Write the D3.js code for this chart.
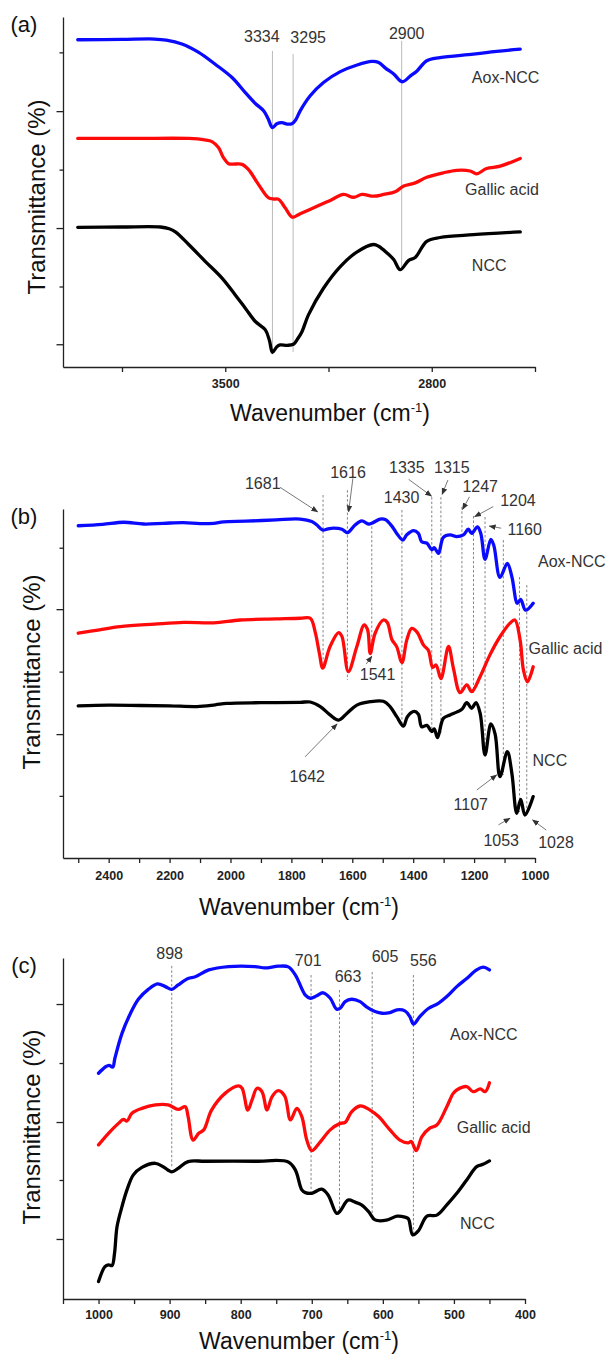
<!DOCTYPE html>
<html>
<head>
<meta charset="utf-8">
<script src="https://cdn.jsdelivr.net/npm/d3@7"></script>
<style>
  body { margin: 0; background: #fff; }
  svg { display: block; font-family: 'Liberation Sans', Arial, sans-serif; }
</style>
</head>
<body>
<script>
// ---- data: [wavenumber (cm-1), transmittance (arbitrary %, offset)] ----

// (a) 4000-2500
const aAox = [[4000,93.5],[3850,93.6],[3740,93.7],[3700,93.4],[3647,92.3],[3590,89.9],[3534,86.5],[3477,82.7],[3432,78.4],[3398,75.3],[3370,73.2],[3355,71],[3340,68.4],[3325,69.5],[3308,69.8],[3290,69.4],[3274,69.5],[3262,70.5],[3246,73.2],[3212,77.5],[3167,81.3],[3110,84.4],[3053,86.3],[3003,87.3],[2980,87.0],[2957,85.4],[2929,83.7],[2900,81.5],[2872,83.2],[2850,84.6],[2817,87.5],[2772,88.4],[2659,89.4],[2580,90.2],[2500,90.8]]
const aGallic = [[4000,65.3],[3800,65.3],[3624,65.3],[3570,64.9],[3545,64.4],[3523,62.7],[3506,59.8],[3489,58.1],[3465,58.0],[3443,57.9],[3421,56.4],[3387,52.1],[3353,48.3],[3335,48.0],[3319,47.9],[3297,45.5],[3272,42.8],[3246,43.8],[3189,45.9],[3144,47.6],[3099,49.3],[3065,48.5],[3036,49.3],[2997,48.8],[2963,49.3],[2924,50.1],[2895,51.7],[2856,52.6],[2817,54.2],[2760,55.5],[2715,56.2],[2670,56.0],[2648,55.2],[2614,56.7],[2568,57.4],[2500,59.6]]
const aNcc = [[4000,39.9],[3850,40.0],[3720,40.0],[3690,39.5],[3669,38.6],[3624,35.0],[3568,30.2],[3511,25.4],[3466,20.6],[3432,16.8],[3398,13.0],[3364,10.6],[3350,7.5],[3340,4.2],[3325,5.8],[3314,6.3],[3290,6.2],[3269,6.5],[3255,8],[3240,10.1],[3218,14.9],[3167,22.5],[3110,28.7],[3053,32.9],[2997,35.0],[2980,34.5],[2952,32.6],[2929,30.7],[2907,27.8],[2879,30.4],[2856,31.3],[2817,35.9],[2772,37.0],[2659,37.8],[2500,38.6]]

// (b) 2500-1000
const bAox = [[2500,95.2],[2420,95.6],[2351,96.2],[2285,95.7],[2220,95.9],[2154,96.1],[2100,95.8],[2055,95.9],[2023,96.3],[1950,96.5],[1850,96.9],[1771,97.1],[1733,96.4],[1716,95.4],[1698,94.0],[1680,94.3],[1662,94.5],[1634,94.2],[1616,93.2],[1591,95.4],[1569,96.6],[1547,95.7],[1536,95.9],[1509,97.1],[1492,97.0],[1470,95.1],[1454,93.0],[1434,91.1],[1421,92.6],[1399,93.8],[1383,93.0],[1372,90.6],[1355,90.2],[1339,88.3],[1331,88.9],[1317,87.3],[1301,91.9],[1279,92.6],[1257,92.1],[1235,92.6],[1219,94.2],[1208,93.0],[1189,94.9],[1178,93.0],[1164,85.6],[1145,91.3],[1135,89.5],[1115,80.4],[1091,84.4],[1076,80.6],[1058,73.0],[1047,74.1],[1031,71.0],[1006,73.0]]
const bGallic = [[2500,64.4],[2430,65.4],[2362,66.3],[2250,67.0],[2154,67.5],[2055,67.4],[1968,68.2],[1850,68.5],[1771,68.7],[1738,68.7],[1722,64.8],[1708,58.6],[1697,54.4],[1673,60.6],[1645,64.6],[1634,63.5],[1613,53.4],[1585,60.6],[1561,66.8],[1550,65.5],[1541,58.6],[1525,64.4],[1498,68.2],[1485,67.5],[1470,62.6],[1454,60.5],[1437,56.0],[1421,62.5],[1405,65.8],[1388,64.8],[1366,61.0],[1350,59.5],[1336,54.6],[1325,55.3],[1309,51.4],[1284,60.6],[1268,54.4],[1246,47.4],[1224,49.6],[1208,47.7],[1180,52.0],[1148,58.2],[1115,63.4],[1082,67.3],[1066,68.2],[1049,62.5],[1038,53.9],[1025,50.5],[1006,54.8]]
const bNcc = [[2500,43.6],[2400,43.8],[2296,43.7],[2200,43.6],[2110,43.4],[2050,43.9],[2012,44.3],[1900,44.5],[1771,44.6],[1738,44.7],[1705,43.4],[1673,41.0],[1645,39.5],[1618,41.4],[1585,43.8],[1541,44.8],[1498,44.9],[1476,43.4],[1454,40.5],[1432,37.8],[1419,40.5],[1397,42.0],[1383,41.2],[1372,37.6],[1355,38.0],[1339,36.2],[1331,37.0],[1320,34.5],[1301,40.0],[1279,41.0],[1257,41.8],[1240,42.6],[1224,44.5],[1208,42.9],[1194,44.5],[1180,41.4],[1164,29.5],[1145,38.4],[1131,35.5],[1115,23.3],[1091,30.5],[1076,24.3],[1060,12.8],[1047,16.8],[1033,12.3],[1006,17.6]]

// (c) 1000-450
const cAox = [[1000,66.2],[990,68.1],[985,68.5],[980,68.0],[977,70.6],[967,77.9],[955,83.8],[944,87.9],[930,90.8],[917,92.4],[906,91.6],[897,90.8],[888,92.1],[874,94.0],[864,94.5],[845,96.5],[817,97.5],[780,97.5],[766,97.1],[747,97.6],[733,97.4],[723,95.0],[709,89.1],[702,88.2],[693,88.9],[684,89.8],[674,88.2],[665,85.0],[660,85.3],[653,87.2],[644,87.9],[632,87.2],[623,85.7],[611,84.3],[601,83.8],[590,84.0],[580,84.8],[569,84.5],[562,82.8],[557,80.6],[548,82.8],[536,85.2],[522,86.7],[510,88.7],[496,91.6],[482,94.0],[468,96.5],[459,97.3],[450,96.5]]
const cGallic = [[1000,45.2],[986,48.6],[972,51.5],[965,52.7],[960,52.2],[953,54.5],[939,55.9],[920,56.9],[902,56.9],[888,55.6],[878,56.4],[874,53.5],[867,46.6],[859,48.6],[852,49.6],[841,55.4],[822,60.3],[803,62.5],[798,61.8],[790,55.4],[784,58.4],[777,61.8],[770,60.8],[763,55.4],[756,59.3],[747,61.1],[738,59.5],[730,52.5],[721,55.9],[714,53.5],[707,46.6],[700,43.5],[688,46.1],[674,49.6],[660,51.5],[653,51.8],[644,54.9],[632,56.6],[618,55.4],[606,53.5],[590,49.6],[576,46.6],[564,45.8],[560,46.2],[553,43.5],[545,47.6],[534,50.1],[524,51.0],[510,56.4],[501,60.3],[496,61.3],[482,62.3],[473,60.8],[463,61.6],[456,60.8],[450,63.4]]
const cNcc = [[1000,5.1],[991,9.5],[986,10.0],[981,9.8],[977.5,13.4],[974,21.2],[967,27.1],[960,32.0],[951,36.4],[939,38.6],[920,39.8],[909,38.8],[897,37.3],[888,38.3],[874,40.3],[850,40.4],[780,40.4],[733,40.2],[723,37.8],[714,32.0],[709,31.2],[700,31.0],[686,32.2],[677,30.5],[665,25.1],[660,25.8],[649,29.0],[639,28.4],[630,27.6],[620,25.6],[611,23.2],[595,23.1],[580,24.3],[569,24.0],[564,23.5],[558,18.8],[550,20.0],[538,24.3],[524,24.6],[510,27.6],[496,31.0],[482,34.9],[468,38.8],[459,39.5],[450,40.5]]

const seriesNames = ['Aox-NCC', 'Gallic acid', 'NCC']

// axis ticks
const aXTicks = [3850, 3500, 3150, 2800, 2450]
const aXLabels = [3500, 2800]
const bXTicks = d3.range(2500, 999, -100)
const bXLabels = [2400, 2200, 2000, 1800, 1600, 1400, 1200, 1000]
const cXTicks = d3.range(1050, 399, -50)
const cXLabels = [1000, 900, 800, 700, 600, 500, 400]

const aYMajor = [6.5, 39.7, 73.1]
const aYMinor = [23.0, 56.4, 89.9]
const bYMajor = [35.5, 71.3]
const bYMinor = [17.8, 53.4, 88.9]
const cYMajor = [17.6, 51.9, 86.5]
const cYMinor = [34.9, 69.2]

// marked bands: [wavenumber of line, top, bottom]
const aPeaks = [[3340, 90.3, 3.6], [3270, 89.4, 4.3], [2902, 93.2, 28.4]]
const aPeakText = ['3334', '3295', '2900']
const bPeaks = [[1696, 104.0, 54.4], [1616, 105.4, 51.0], [1536, 96.3, 59.6], [1437, 99.7, 37.5], [1339, 103.4, 37.2], [1309, 103.4, 35.8], [1240, 100.6, 47.3], [1202, 98.0, 47.3], [1164, 97.7, 29.5], [1104, 91.1, 23.8], [1051, 80.5, 13.2], [1027, 78.2, 12.3]]
const cPeaks = [[897, 97.7, 38.4], [701, 95.0, 31.1], [661, 90.6, 25.5], [615, 95.9, 23.2], [557, 95.0, 18.8]]
const cPeakText = ['898', '701', '663', '605', '556']
const bPeakText = ['1681', '1616', '1541', '1430', '1335', '1315', '1247', '1204', '1160', '1642', '1107', '1053', '1028']

// ---- layout ----
const W = 616
const H = 1355
const font = "'Liberation Sans', Arial, sans-serif"
const colors = ['#0a0aff', '#ff0a0a', '#000000']

const svg = d3.select('body').append('svg').attr('width', W).attr('height', H)

const defs = svg.append('defs')
defs.append('marker')
  .attr('id', 'arrow')
  .attr('viewBox', '0 0 10 10')
  .attr('refX', 9)
  .attr('refY', 5)
  .attr('markerWidth', 7)
  .attr('markerHeight', 7)
  .attr('markerUnits', 'userSpaceOnUse')
  .attr('orient', 'auto')
  .append('path')
  .attr('d', 'M0,1 L10,5 L0,9 z')
  .attr('fill', '#333')

function drawPanel(p) {
  const x = d3.scaleLinear().domain(p.xDomain).range([63, p.xRight])
  const y = d3.scaleLinear().domain([0, 100]).range([p.bottom, p.top])

  const g = svg.append('g')

  // y axis, major + minor ticks
  g.append('g')
    .attr('transform', 'translate(63,0)')
    .call(d3.axisLeft(y).tickValues(p.yMajor).tickSize(6.5).tickSizeOuter(0).tickFormat(''))
  g.append('g')
    .attr('transform', 'translate(63,0)')
    .call(d3.axisLeft(y).tickValues(p.yMinor).tickSize(3.5).tickSizeOuter(0).tickFormat(''))
    .call(a => a.select('.domain').remove())

  // x axis
  g.append('g')
    .attr('transform', `translate(0,${p.bottom})`)
    .call(
      d3.axisBottom(x)
        .tickValues(p.xTicks)
        .tickSize(5)
        .tickSizeOuter(0)
        .tickPadding(p.tickPad)
        .tickFormat(d => (p.xLabels.includes(d) ? d : ''))
    )
    .call(a => a.selectAll('text')
      .attr('font-size', 12.5)
      .attr('font-weight', 'bold')
      .attr('font-family', font)
      .attr('fill', '#222'))

  svg.selectAll('.domain, .tick line').attr('stroke', '#222').attr('stroke-width', 1.3)

  // band lines
  g.selectAll('.band')
    .data(p.peaks)
    .enter()
    .append('line')
    .attr('x1', d => x(d[0]))
    .attr('x2', d => x(d[0]))
    .attr('y1', d => y(d[1]))
    .attr('y2', d => y(d[2]))
    .attr('stroke', p.dashed ? '#666' : '#a8a8a8')
    .attr('stroke-width', 0.8)
    .attr('stroke-dasharray', p.dashed ? '2.5,2' : null)

  // spectra
  const line = d3.line()
    .x(d => x(d[0]))
    .y(d => y(d[1]))
    .curve(d3.curveCatmullRom.alpha(0.5))

  g.selectAll('.spectrum')
    .data(p.series)
    .enter()
    .append('path')
    .attr('d', d => line(d.slice().sort((a, b) => b[0] - a[0])))
    .attr('fill', 'none')
    .attr('stroke', (d, i) => colors[i])
    .attr('stroke-width', 3.3)
    .attr('stroke-linejoin', 'round')
    .attr('stroke-linecap', 'round')

  // arrows
  g.selectAll('.arrow')
    .data(p.arrows || [])
    .enter()
    .append('line')
    .attr('x1', d => x(d[0]))
    .attr('y1', d => y(d[1]))
    .attr('x2', d => x(d[2]))
    .attr('y2', d => y(d[3]))
    .attr('stroke', '#555')
    .attr('stroke-width', 0.8)
    .attr('marker-end', 'url(#arrow)')

  // band numbers
  g.selectAll('.peaklabel')
    .data(p.peakLabels)
    .enter()
    .append('text')
    .attr('x', d => x(d.w))
    .attr('y', d => y(d.v))
    .attr('dy', '0.36em')
    .attr('text-anchor', 'middle')
    .attr('font-size', 16)
    .attr('fill', '#333')
    .text(d => d.text)

  // series names
  g.selectAll('.name')
    .data(p.names)
    .enter()
    .append('text')
    .attr('x', d => x(d.w))
    .attr('y', d => y(d.v))
    .attr('dy', '0.36em')
    .attr('font-size', 16)
    .attr('fill', '#333')
    .text(d => d.text)

  // panel letter
  g.append('text')
    .attr('x', 24)
    .attr('y', p.top + 15)
    .attr('text-anchor', 'middle')
    .attr('font-size', 22)
    .attr('fill', '#111')
    .text(p.letter)

  // axis titles
  g.append('text')
    .attr('transform', `translate(${p.yTitleX},${p.yTitleY}) rotate(-90)`)
    .attr('text-anchor', 'middle')
    .attr('font-size', 24)
    .attr('fill', '#111')
    .text('Transmittance (%)')

  const xt = g.append('text')
    .attr('x', p.xTitleX)
    .attr('y', p.xTitleY)
    .attr('text-anchor', 'middle')
    .attr('font-size', 23)
    .attr('fill', '#111')
  xt.append('tspan').text('Wavenumber (cm')
  xt.append('tspan').attr('font-size', 13).attr('dy', -9).text('-1')
  xt.append('tspan').attr('dy', 9).text(')')
}

drawPanel({
  letter: '(a)',
  top: 17, bottom: 367, xRight: 535,
  xDomain: [4050, 2450], xTicks: aXTicks, xLabels: aXLabels, tickPad: 7,
  yMajor: aYMajor, yMinor: aYMinor,
  series: [aAox, aGallic, aNcc],
  peaks: aPeaks, dashed: false,
  peakLabels: [
    { text: aPeakText[0], w: 3376, v: 94.4 },
    { text: aPeakText[1], w: 3219, v: 94.1 },
    { text: aPeakText[2], w: 2885, v: 95.4 }
  ],
  names: [
    { text: seriesNames[0], w: 2664, v: 82.7 },
    { text: seriesNames[1], w: 2687, v: 50.7 },
    { text: seriesNames[2], w: 2664, v: 29.2 }
  ],
  yTitleX: 45, yTitleY: 197, xTitleX: 330, xTitleY: 421
})

drawPanel({
  letter: '(b)',
  top: 509, bottom: 858, xRight: 535,
  xDomain: [2550, 1000], xTicks: bXTicks, xLabels: bXLabels, tickPad: 8.5,
  yMajor: bYMajor, yMinor: bYMinor,
  series: [bAox, bGallic, bNcc],
  peaks: bPeaks, dashed: true,
  arrows: [
    [1837, 106.2, 1714, 99.2],
    [1598, 108.8, 1612, 99.2],
    [1554, 55.6, 1536, 57.8],
    [1415, 108.5, 1340, 103.7],
    [1286, 108.3, 1305, 104.2],
    [1215, 103.5, 1238, 99.9],
    [1137, 100.7, 1198, 97.8],
    [1111, 94.5, 1150, 95.1],
    [1755, 29.0, 1650, 38.4],
    [1191, 19.5, 1126, 23.8],
    [1120, 9.5, 1082, 11.4],
    [963, 8.0, 1008, 10.9]
  ],
  peakLabels: [
    { text: bPeakText[0], w: 1894, v: 107.5 },
    { text: bPeakText[1], w: 1614, v: 110.5 },
    { text: bPeakText[2], w: 1517, v: 52.7 },
    { text: bPeakText[3], w: 1438, v: 103.5 },
    { text: bPeakText[4], w: 1421, v: 112.1 },
    { text: bPeakText[5], w: 1273, v: 112.1 },
    { text: bPeakText[6], w: 1180, v: 106.4 },
    { text: bPeakText[7], w: 1056, v: 102.6 },
    { text: bPeakText[8], w: 1034, v: 94.3 },
    { text: bPeakText[9], w: 1748, v: 23.3 },
    { text: bPeakText[10], w: 1211, v: 15.5 },
    { text: bPeakText[11], w: 1111, v: 5.2 },
    { text: bPeakText[12], w: 931, v: 4.4 }
  ],
  names: [
    { text: seriesNames[0], w: 990, v: 84.9 },
    { text: seriesNames[1], w: 1021, v: 60.1 },
    { text: seriesNames[2], w: 1008, v: 28.1 }
  ],
  yTitleX: 40, yTitleY: 672, xTitleX: 299, xTitleY: 915
})

drawPanel({
  letter: '(c)',
  top: 958, bottom: 1299, xRight: 525,
  xDomain: [1050, 400], xTicks: cXTicks, xLabels: cXLabels, tickPad: 6,
  yMajor: cYMajor, yMinor: cYMinor,
  series: [cAox, cGallic, cNcc],
  peaks: cPeaks, dashed: true,
  peakLabels: [
    { text: cPeakText[0], w: 900, v: 101.4 },
    { text: cPeakText[1], w: 705, v: 99.2 },
    { text: cPeakText[2], w: 649, v: 94.7 },
    { text: cPeakText[3], w: 597, v: 100.4 },
    { text: cPeakText[4], w: 543, v: 99.2 }
  ],
  names: [
    { text: seriesNames[0], w: 505.5, v: 77.6 },
    { text: seriesNames[1], w: 496, v: 50.5 },
    { text: seriesNames[2], w: 491.4, v: 22.2 }
  ],
  yTitleX: 40, yTitleY: 1127, xTitleX: 299, xTitleY: 1349
})
</script>
</body>
</html>
